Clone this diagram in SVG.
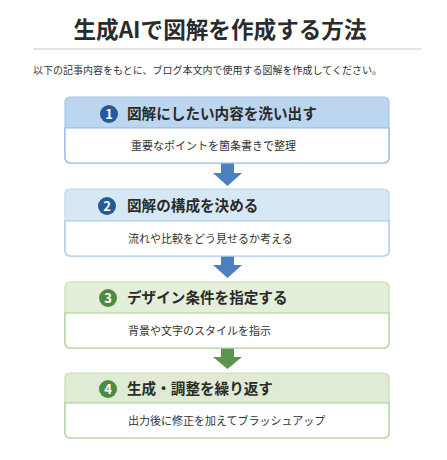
<svg xmlns="http://www.w3.org/2000/svg" width="447" height="460" viewBox="0 0 447 460">
<style>
text{font-family:"Noto Sans CJK JP","Noto Sans",sans-serif;fill:#333}
.title{font-size:22.6px;font-weight:700;fill:#2b2b2b}
.sub{font-size:10px;fill:#333}
.head{font-size:14.6px;font-weight:700;fill:#2a2a2a}
.body{font-size:11px;fill:#333}
.num{font-size:13px;font-weight:700;fill:#fff}
.white{fill:#fff}
</style>
<rect width="447" height="460" fill="#fff"/>
<text class="title" x="220" y="38" text-anchor="middle">生成AIで図解を作成する方法</text>
<line x1="33" y1="49" x2="421" y2="49" stroke="#c8c8c8" stroke-width="1.2"/>
<text class="sub" x="33" y="74">以下の記事内容をもとに、ブログ本文内で使用する図解を作成してください。</text>

<g id="connectors">
<path d="M221,163 H234 V173 H242 L227.5,186 L213,173 H221 Z" fill="#4a7fc1"/>
<path d="M221,255 H234 V265 H242 L227.5,278 L213,265 H221 Z" fill="#4a7fc1"/>
<path d="M221,347 H234 V357 H242 L227.5,369 L213,357 H221 Z" fill="#5c9550"/>
</g>

<g id="step1">
<path d="M65,128 V102 a5,5 0 0 1 5,-5 H384 a5,5 0 0 1 5,5 V128 Z" fill="#bdd6ef"/>
<rect x="65" y="97" width="324" height="66" rx="5" fill="none" stroke="#a6c5e6" stroke-width="1.2"/>
<path d="M65,128 H389 V158 a5,5 0 0 1 -5,5 H70 a5,5 0 0 1 -5,-5 Z" class="white" stroke="#8fb6e0" stroke-width="1.2"/>
<circle cx="109" cy="114" r="9" fill="#245a9c"/>
<text class="num" x="109" y="118.7" text-anchor="middle">1</text>
<text class="head" x="127" y="119">図解にしたい内容を洗い出す</text>
<text class="body" x="131" y="150">重要なポイントを箇条書きで整理</text>
</g>

<g id="step2">
<path d="M65,221 V194 a5,5 0 0 1 5,-5 H384 a5,5 0 0 1 5,5 V221 Z" fill="#d5e8f4"/>
<rect x="65" y="189" width="324" height="67" rx="5" fill="none" stroke="#bcd7ec" stroke-width="1.2"/>
<path d="M65,221 H389 V251 a5,5 0 0 1 -5,5 H70 a5,5 0 0 1 -5,-5 Z" class="white" stroke="#a4c6e6" stroke-width="1.2"/>
<circle cx="107" cy="206" r="9" fill="#245a9c"/>
<text class="num" x="107" y="210.7" text-anchor="middle">2</text>
<text class="head" x="127" y="211">図解の構成を決める</text>
<text class="body" x="128" y="243">流れや比較をどう見せるか考える</text>
</g>

<g id="step3">
<path d="M65,313 V287 a5,5 0 0 1 5,-5 H384 a5,5 0 0 1 5,5 V313 Z" fill="#e3efd8"/>
<rect x="65" y="282" width="324" height="66" rx="5" fill="none" stroke="#c7ddb5" stroke-width="1.2"/>
<path d="M65,313 H389 V343 a5,5 0 0 1 -5,5 H70 a5,5 0 0 1 -5,-5 Z" class="white" stroke="#a9cc92" stroke-width="1.2"/>
<circle cx="108" cy="298" r="9" fill="#4f8a45"/>
<text class="num" x="108" y="302.7" text-anchor="middle">3</text>
<text class="head" x="127" y="303">デザイン条件を指定する</text>
<text class="body" x="128" y="335">背景や文字のスタイルを指示</text>
</g>

<g id="step4">
<path d="M65,403 V378 a5,5 0 0 1 5,-5 H384 a5,5 0 0 1 5,5 V403 Z" fill="#dfebd3"/>
<rect x="65" y="373" width="324" height="65" rx="5" fill="none" stroke="#c7ddb5" stroke-width="1.2"/>
<path d="M65,403 H389 V433 a5,5 0 0 1 -5,5 H70 a5,5 0 0 1 -5,-5 Z" class="white" stroke="#a9cc92" stroke-width="1.2"/>
<circle cx="108" cy="389" r="9" fill="#4f8a45"/>
<text class="num" x="108" y="393.7" text-anchor="middle">4</text>
<text class="head" x="127" y="394">生成・調整を繰り返す</text>
<text class="body" x="128" y="425">出力後に修正を加えてブラッシュアップ</text>
</g>
</svg>
